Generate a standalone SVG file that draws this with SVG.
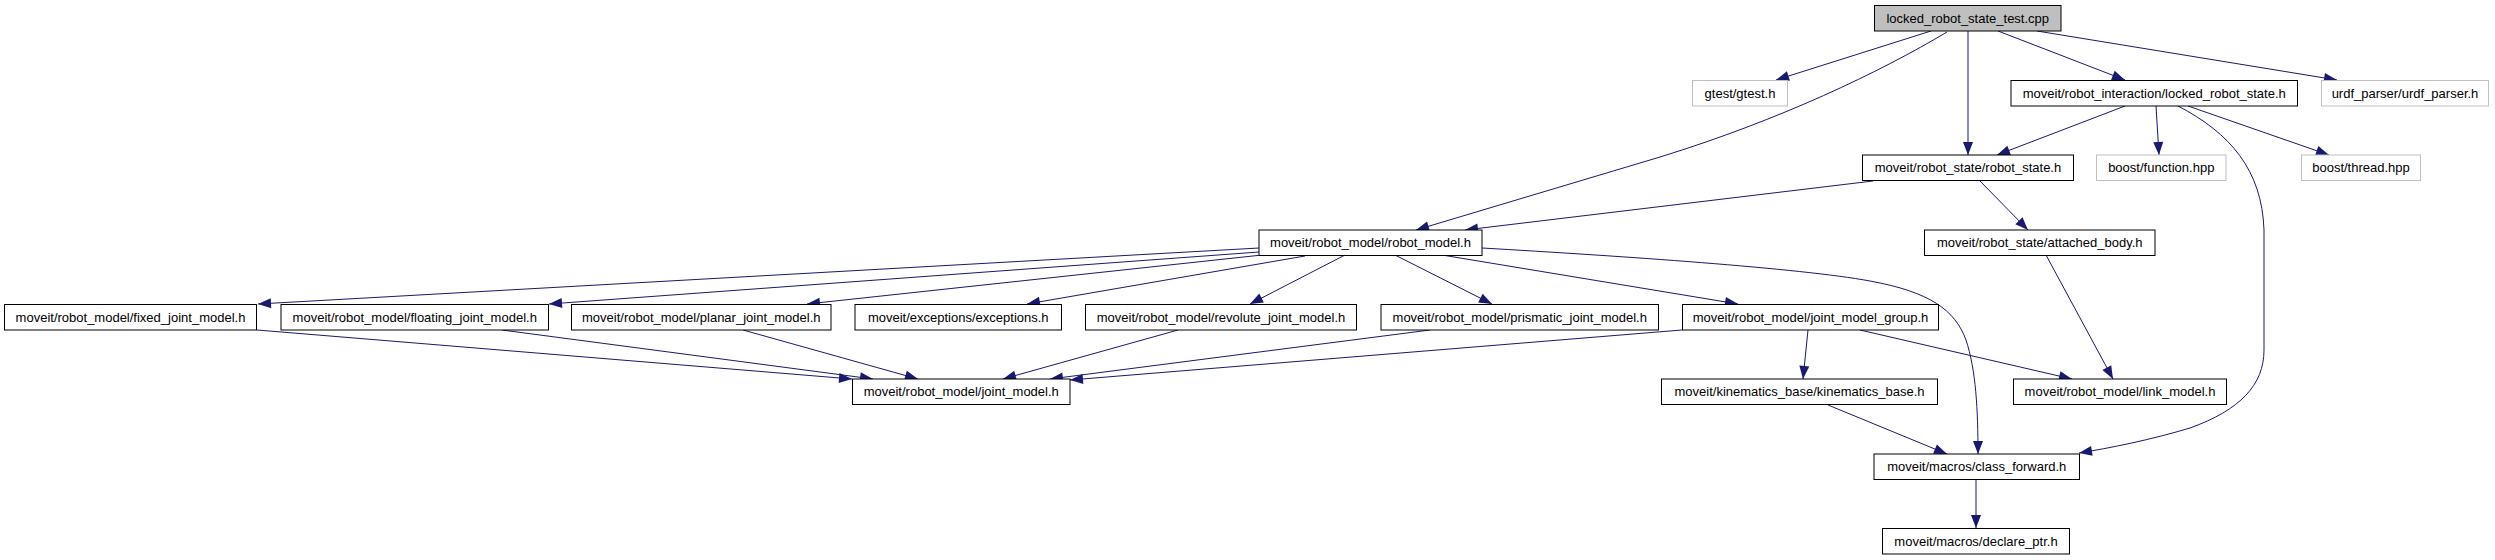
<svg xmlns="http://www.w3.org/2000/svg" width="2495" height="560" viewBox="0 0 2495 560">
<style>
.n rect{fill:#fff;stroke:#000;stroke-width:1}
.n.u rect{stroke:#bfbfbf}
.n.m rect{fill:#bfbfbf}
.n text{font-family:"Liberation Sans",Arial,Helvetica,sans-serif;font-size:13px;fill:#000;text-anchor:middle}
#edges path{fill:none;stroke:#191970;stroke-width:1;marker-end:url(#ah)}
</style>
<defs>
<marker id="ah" markerUnits="userSpaceOnUse" markerWidth="13" markerHeight="10" refX="13" refY="5" orient="auto" viewBox="0 0 13 10" overflow="visible">
<path d="M0,0 L13,5 L0,10 z" fill="#191970"/>
</marker>
</defs>
<rect width="2495" height="560" fill="#fff"/>
<g id="edges">
<path d="M1931,31 L1776,80"/>
<path d="M1947,32 C1880,72 1780,120 1660,157 L1416,230"/>
<path d="M1968,31 L1968,155"/>
<path d="M1998,31 L2125,80"/>
<path d="M2037,31 L2337,80"/>
<path d="M2125,106 L1997,155"/>
<path d="M2156,106 L2159,155"/>
<path d="M2188,106 L2329,155"/>
<path d="M2178,106 C2230,133 2262,170 2264,230 L2264,350 C2264,385 2240,410 2190,428 C2150,440 2110,448 2079,453"/>
<path d="M1873,181 L1465,230"/>
<path d="M1980,181 L2028,230"/>
<path d="M2046,255 L2113,379"/>
<path d="M1259,248 L258,304"/>
<path d="M1259,252 L549,304"/>
<path d="M1262,255 L807,304"/>
<path d="M1305,256 L1027,304"/>
<path d="M1345,255 L1250,304"/>
<path d="M1395,255 L1492,304"/>
<path d="M1442,255 L1738,304"/>
<path d="M1482,248 C1620,256 1800,268 1870,281 C1930,292 1955,310 1966,340 C1976,370 1978,410 1978,454"/>
<path d="M257,330 L852,379"/>
<path d="M502,330 L873,379"/>
<path d="M743,330 L918,379"/>
<path d="M1178,330 L1003,379"/>
<path d="M1430,330 L1050,379"/>
<path d="M1682,330 L1070,380"/>
<path d="M1808,330 L1803,379"/>
<path d="M1860,330 L2072,379"/>
<path d="M1828,405 L1947,454"/>
<path d="M1976,479 L1976,528"/>
</g>
<g id="n0" class="n m"><rect x="1874.5" y="5.5" width="186.5" height="25.5"/><text x="1967.75" y="22.5">locked_robot_state_test.cpp</text></g>
<g id="n1" class="n u"><rect x="1692.5" y="80.5" width="95" height="25.5"/><text x="1740" y="97.5">gtest/gtest.h</text></g>
<g id="n2" class="n"><rect x="2011" y="80.5" width="286.5" height="25.5"/><text x="2154.25" y="97.5">moveit/robot_interaction/locked_robot_state.h</text></g>
<g id="n3" class="n u"><rect x="2321.5" y="80.5" width="167" height="25.5"/><text x="2405" y="97.5">urdf_parser/urdf_parser.h</text></g>
<g id="n4" class="n u"><rect x="2096.5" y="155" width="129.5" height="25.5"/><text x="2161.25" y="172">boost/function.hpp</text></g>
<g id="n5" class="n u"><rect x="2301.5" y="155" width="119" height="25.5"/><text x="2361" y="172">boost/thread.hpp</text></g>
<g id="n6" class="n"><rect x="1862.5" y="155" width="211" height="25.5"/><text x="1968" y="172">moveit/robot_state/robot_state.h</text></g>
<g id="n7" class="n"><rect x="1924.5" y="230" width="230.5" height="25.5"/><text x="2039.75" y="247">moveit/robot_state/attached_body.h</text></g>
<g id="n8" class="n"><rect x="1259" y="230" width="223" height="25.5"/><text x="1370.5" y="247">moveit/robot_model/robot_model.h</text></g>
<g id="n9" class="n"><rect x="4.5" y="304.5" width="252" height="25.5"/><text x="130.5" y="321.5">moveit/robot_model/fixed_joint_model.h</text></g>
<g id="n10" class="n"><rect x="281" y="304.5" width="267.5" height="25.5"/><text x="414.75" y="321.5">moveit/robot_model/floating_joint_model.h</text></g>
<g id="n11" class="n"><rect x="571.5" y="304.5" width="259.5" height="25.5"/><text x="701.25" y="321.5">moveit/robot_model/planar_joint_model.h</text></g>
<g id="n12" class="n"><rect x="855" y="304.5" width="206.5" height="25.5"/><text x="958.25" y="321.5">moveit/exceptions/exceptions.h</text></g>
<g id="n13" class="n"><rect x="1085.5" y="304.5" width="271" height="25.5"/><text x="1221" y="321.5">moveit/robot_model/revolute_joint_model.h</text></g>
<g id="n14" class="n"><rect x="1381" y="304.5" width="277.5" height="25.5"/><text x="1519.75" y="321.5">moveit/robot_model/prismatic_joint_model.h</text></g>
<g id="n15" class="n"><rect x="1682.5" y="304.5" width="256" height="25.5"/><text x="1810.5" y="321.5">moveit/robot_model/joint_model_group.h</text></g>
<g id="n16" class="n"><rect x="852.5" y="379" width="217.5" height="25.5"/><text x="961.25" y="396">moveit/robot_model/joint_model.h</text></g>
<g id="n17" class="n"><rect x="1661.5" y="379" width="276" height="25.5"/><text x="1799.5" y="396">moveit/kinematics_base/kinematics_base.h</text></g>
<g id="n18" class="n"><rect x="2013.5" y="379" width="213" height="25.5"/><text x="2120" y="396">moveit/robot_model/link_model.h</text></g>
<g id="n19" class="n"><rect x="1874" y="454" width="205.5" height="25.5"/><text x="1976.75" y="471">moveit/macros/class_forward.h</text></g>
<g id="n20" class="n"><rect x="1882.5" y="528.5" width="187" height="25.5"/><text x="1976" y="545.5">moveit/macros/declare_ptr.h</text></g>
</svg>
